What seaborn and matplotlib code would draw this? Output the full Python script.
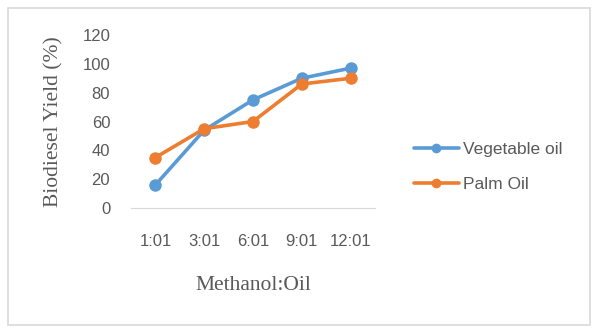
import matplotlib
matplotlib.use("Agg")
import matplotlib.pyplot as plt
import seaborn as sns
import pandas as pd
from matplotlib.patches import Rectangle

ratios = ["1:01", "3:01", "6:01", "9:01", "12:01"]
vegetable_oil = [16, 54, 75, 90, 97]
palm_oil = [35, 55, 60, 86, 90]
series_names = ["Vegetable oil", "Palm Oil"]
y_ticks = [0, 20, 40, 60, 80, 100, 120]

df = pd.DataFrame({
    "pos": list(range(len(ratios))) * 2,
    "ratio": ratios * 2,
    "yield": vegetable_oil + palm_oil,
    "series": [series_names[0]] * len(ratios) + [series_names[1]] * len(ratios),
})

sns.set_theme(style="white")
plt.rcParams["font.family"] = ["Liberation Sans", "DejaVu Sans"]
text_color = "#595959"

fig = plt.figure(figsize=(5.99, 3.35), dpi=100)
ax = fig.add_axes([131/599, 1-208/335, 244/599, 173/335])

sns.lineplot(data=df, x="pos", y="yield", hue="series", marker="o",
             palette=["#5B9BD5", "#ED7D31"], linewidth=2.6, markersize=9,
             markeredgewidth=0, sort=False, ax=ax)

ax.set_xlim(-0.5, 4.5)
ax.set_ylim(0, 120)
ax.set_xticks(range(len(ratios)))
ax.set_xticklabels(ratios)
ax.set_yticks(y_ticks)
ax.tick_params(axis="both", length=0, labelsize=12, colors=text_color)
ax.tick_params(axis="x", pad=19)
ax.tick_params(axis="y", pad=15)
for s in ["top", "right", "left"]:
    ax.spines[s].set_visible(False)
ax.spines["bottom"].set_color("#D9D9D9")
ax.spines["bottom"].set_linewidth(0.8)

ax.set_xlabel("Methanol:Oil", fontsize=15.5, color=text_color,
              family=["Liberation Serif", "DejaVu Serif"])
ax.set_ylabel("Biodiesel Yield (%)", fontsize=15.5, color=text_color,
              family=["Liberation Serif", "DejaVu Serif"])
ax.xaxis.set_label_coords(0.5, (208-285)/173)
ax.xaxis.label.set_va("center")
ax.yaxis.set_label_coords((54-131)/244, 0.5)
ax.yaxis.label.set_va("center")

handles, labels = ax.get_legend_handles_labels()
for h in handles:
    h.set_markersize(7)
leg = ax.legend(handles, labels, loc="center left",
                bbox_to_anchor=(398/599, 1-167/335), bbox_transform=fig.transFigure,
                frameon=False, fontsize=12.5, handlelength=2.6, handletextpad=0.25,
                labelspacing=1.15, labelcolor=text_color)

fig.patches.append(Rectangle((8/599, 1-325/335), 582/599, 317/335,
                             transform=fig.transFigure, fill=False,
                             edgecolor="#D9D9D9", linewidth=1.2))

fig.savefig("out.png", dpi=100)
